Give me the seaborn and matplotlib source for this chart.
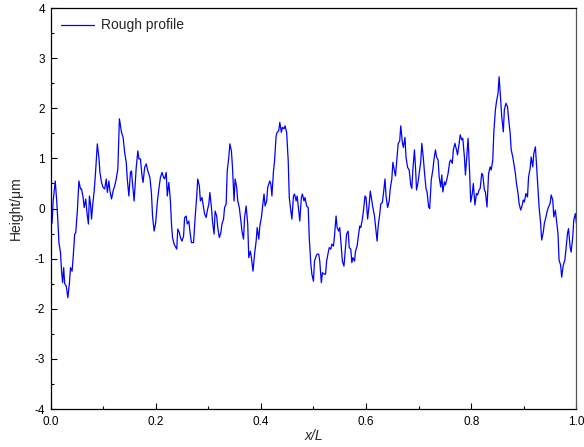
import matplotlib
matplotlib.use("Agg")
import matplotlib.pyplot as plt
from matplotlib.ticker import MultipleLocator
import seaborn as sns
import pandas as pd

# Normalised position along the sample length
x_over_L = [
    0.000, 0.003, 0.005, 0.009, 0.012, 0.014, 0.016, 0.019, 0.021, 0.023,
    0.025, 0.027, 0.030, 0.033, 0.036, 0.038, 0.041, 0.043, 0.046, 0.048,
    0.051, 0.054, 0.057, 0.059, 0.062, 0.064, 0.067, 0.069, 0.072, 0.074,
    0.076, 0.078, 0.080, 0.083, 0.085, 0.089, 0.092, 0.094, 0.097, 0.100,
    0.103, 0.106, 0.108, 0.111, 0.113, 0.116, 0.119, 0.122, 0.125, 0.128,
    0.131, 0.135, 0.138, 0.141, 0.144, 0.146, 0.149, 0.152, 0.154, 0.156,
    0.159, 0.163, 0.166, 0.168, 0.171, 0.174, 0.176, 0.179, 0.182, 0.185,
    0.189, 0.192, 0.194, 0.197, 0.200, 0.203, 0.206, 0.209, 0.212, 0.215,
    0.217, 0.220, 0.222, 0.225, 0.228, 0.230, 0.232, 0.235, 0.237, 0.240,
    0.242, 0.245, 0.247, 0.250, 0.253, 0.255, 0.258, 0.260, 0.263, 0.265,
    0.268, 0.272, 0.275, 0.278, 0.280, 0.283, 0.285, 0.288, 0.291, 0.293,
    0.296, 0.298, 0.301, 0.303, 0.306, 0.308, 0.311, 0.313, 0.316, 0.318,
    0.321, 0.324, 0.326, 0.329, 0.331, 0.334, 0.336, 0.339, 0.341, 0.344,
    0.346, 0.349, 0.351, 0.354, 0.356, 0.359, 0.362, 0.364, 0.367, 0.369,
    0.372, 0.375, 0.377, 0.380, 0.382, 0.385, 0.388, 0.391, 0.393, 0.396,
    0.398, 0.401, 0.403, 0.406, 0.408, 0.411, 0.413, 0.417, 0.419, 0.421,
    0.424, 0.426, 0.429, 0.431, 0.434, 0.436, 0.439, 0.441, 0.444, 0.446,
    0.449, 0.452, 0.454, 0.457, 0.459, 0.462, 0.464, 0.467, 0.469, 0.472,
    0.474, 0.477, 0.479, 0.482, 0.484, 0.487, 0.490, 0.492, 0.495, 0.497,
    0.500, 0.502, 0.505, 0.507, 0.510, 0.512, 0.515, 0.517, 0.520, 0.523,
    0.525, 0.528, 0.530, 0.533, 0.535, 0.538, 0.540, 0.543, 0.545, 0.548,
    0.550, 0.553, 0.555, 0.558, 0.561, 0.563, 0.566, 0.568, 0.571, 0.573,
    0.575, 0.578, 0.580, 0.583, 0.585, 0.588, 0.590, 0.593, 0.595, 0.598,
    0.600, 0.603, 0.606, 0.608, 0.611, 0.613, 0.616, 0.618, 0.621, 0.623,
    0.626, 0.628, 0.631, 0.633, 0.636, 0.638, 0.641, 0.644, 0.646, 0.649,
    0.651, 0.654, 0.656, 0.659, 0.661, 0.664, 0.666, 0.669, 0.671, 0.674,
    0.676, 0.679, 0.682, 0.685, 0.687, 0.689, 0.692, 0.694, 0.696, 0.699,
    0.701, 0.704, 0.706, 0.709, 0.711, 0.714, 0.716, 0.719, 0.721, 0.724,
    0.727, 0.729, 0.732, 0.734, 0.737, 0.739, 0.742, 0.744, 0.746, 0.749,
    0.751, 0.754, 0.756, 0.759, 0.761, 0.764, 0.766, 0.769, 0.772, 0.774,
    0.777, 0.779, 0.782, 0.784, 0.787, 0.789, 0.792, 0.794, 0.797, 0.799,
    0.802, 0.804, 0.807, 0.810, 0.812, 0.815, 0.817, 0.820, 0.822, 0.825,
    0.827, 0.830, 0.833, 0.836, 0.838, 0.841, 0.843, 0.846, 0.848, 0.851,
    0.853, 0.856, 0.858, 0.861, 0.863, 0.866, 0.869, 0.871, 0.874, 0.876,
    0.879, 0.881, 0.884, 0.886, 0.889, 0.891, 0.894, 0.896, 0.899, 0.901,
    0.904, 0.907, 0.909, 0.912, 0.914, 0.917, 0.919, 0.922, 0.924, 0.927,
    0.929, 0.932, 0.934, 0.937, 0.939, 0.942, 0.945, 0.947, 0.950, 0.952,
    0.955, 0.957, 0.960, 0.962, 0.965, 0.967, 0.970, 0.972, 0.975, 0.978,
    0.980, 0.983, 0.985, 0.988, 0.990, 0.993, 0.995, 0.998, 1.000,
]

# Surface height in micrometres
height_um = [
    -0.35, -0.28, 0.15, 0.55, 0.12, -0.25, -0.68, -0.88, -1.25, -1.48,
    -1.18, -1.50, -1.55, -1.78, -1.48, -1.18, -1.25, -0.98, -0.51, -0.48,
    -0.05, 0.55, 0.39, 0.39, 0.22, 0.02, 0.19, -0.05, -0.31, 0.25,
    0.09, -0.21, 0.05, 0.35, 0.62, 1.29, 1.02, 0.72, 0.52, 0.42,
    0.39, 0.59, 0.32, 0.55, 0.35, 0.19, 0.35, 0.45, 0.59, 0.79,
    1.79, 1.52, 1.42, 1.12, 0.92, 0.59, 0.25, 0.72, 0.75, 0.49,
    0.15, 0.82, 1.15, 0.99, 0.99, 0.65, 0.52, 0.82, 0.89, 0.75,
    0.62, 0.29, -0.15, -0.45, -0.28, 0.12, 0.39, 0.62, 0.72, 0.62,
    0.59, 0.72, 0.25, 0.52, 0.15, -0.31, -0.58, -0.71, -0.75, -0.81,
    -0.41, -0.48, -0.58, -0.65, -0.55, -0.18, -0.15, -0.31, -0.25, -0.45,
    -0.68, -0.68, -0.18, 0.25, 0.59, 0.45, 0.15, 0.22, 0.02, -0.11,
    -0.18, -0.05, 0.09, 0.32, 0.02, -0.25, -0.51, -0.05, -0.15, -0.38,
    -0.58, -0.48, -0.31, -0.21, 0.02, 0.09, 0.75, 1.02, 1.29, 1.15,
    0.82, 0.15, 0.59, 0.42, 0.15, 0.02, -0.25, -0.45, -0.61, -0.18,
    0.05, -0.31, -0.98, -0.85, -0.98, -1.25, -0.91, -0.65, -0.38, -0.61,
    -0.35, -0.18, 0.02, 0.29, 0.05, 0.15, 0.42, 0.55, 0.49, 0.25,
    0.75, 0.95, 1.45, 1.52, 1.55, 1.72, 1.52, 1.62, 1.59, 1.65,
    1.52, 0.95, 0.22, -0.05, -0.21, 0.25, 0.29, 0.15, 0.25, -0.05,
    -0.25, 0.22, 0.29, 0.15, 0.22, 0.05, 0.02, -0.58, -1.11, -1.31,
    -1.45, -1.05, -0.95, -0.91, -0.91, -1.05, -1.48, -1.28, -1.31, -1.31,
    -1.05, -0.88, -0.78, -0.81, -0.71, -0.75, -0.55, -0.15, -0.38, -0.45,
    -0.38, -0.78, -1.05, -1.15, -0.78, -0.51, -0.45, -0.78, -0.81, -1.08,
    -0.98, -1.05, -0.85, -0.75, -0.58, -0.35, -0.38, -0.21, -0.05, 0.25,
    0.22, -0.21, 0.09, 0.35, 0.15, 0.02, -0.15, -0.35, -0.65, -0.35,
    -0.11, 0.09, 0.12, 0.29, 0.59, 0.25, 0.02, 0.15, 0.39, 0.59,
    0.92, 0.75, 0.65, 1.05, 1.29, 1.35, 1.65, 1.32, 1.22, 1.42,
    1.02, 0.82, 0.77, 0.47, 0.40, 0.77, 1.17, 0.83, 0.37, 0.53,
    0.70, 0.93, 1.30, 1.00, 0.73, 0.40, 0.33, 0.03, 0.00, 0.57,
    0.77, 0.97, 1.17, 1.03, 0.97, 0.63, 0.43, 0.67, 0.33, 0.53,
    0.47, 0.60, 0.70, 0.93, 0.97, 0.90, 1.17, 1.30, 1.17, 1.07,
    1.30, 1.47, 1.37, 1.40, 1.03, 0.67, 1.10, 1.40, 0.70, 0.13,
    0.30, 0.50, 0.07, 0.30, 0.27, 0.37, 0.40, 0.70, 0.67, 0.37,
    0.33, 0.03, 0.70, 0.83, 0.77, 0.97, 1.53, 1.97, 2.13, 2.30,
    2.63, 2.17, 1.83, 1.53, 1.97, 2.10, 2.03, 1.80, 1.50, 1.17,
    1.03, 0.90, 0.70, 0.50, 0.30, 0.10, -0.03, 0.03, 0.17, 0.13,
    0.30, 0.23, 0.63, 0.80, 1.03, 0.83, 1.10, 1.23, 0.90, 0.37,
    0.03, -0.30, -0.63, -0.47, -0.30, -0.17, -0.03, 0.03, 0.10, 0.27,
    0.17, -0.17, -0.03, -0.23, -0.50, -1.03, -1.13, -1.37, -1.13, -1.03,
    -0.83, -0.50, -0.40, -0.77, -0.87, -0.57, -0.23, -0.10, -0.30,
]

series_label = "Rough profile"

df = pd.DataFrame({"x/L": x_over_L, "Height": height_um})

sns.set_theme(style="ticks")
plt.rcParams["font.family"] = ["Liberation Sans", "DejaVu Sans"]
plt.rcParams["axes.unicode_minus"] = False

fig = plt.figure(figsize=(5.84, 4.47), dpi=100)
ax = fig.add_axes([0.0865, 0.085, 0.9005, 0.897])

sns.lineplot(data=df, x="x/L", y="Height", ax=ax, color="#0000FF",
             linewidth=0.9, sort=False, estimator=None, label=series_label)

ax.set_xlim(0.0, 1.0)
ax.set_ylim(-4, 4)
ax.xaxis.set_major_locator(MultipleLocator(0.2))
ax.xaxis.set_minor_locator(MultipleLocator(0.1))
ax.yaxis.set_major_locator(MultipleLocator(1))
ax.yaxis.set_minor_locator(MultipleLocator(0.5))
ax.set_xticklabels([f"{v:.1f}" for v in ax.get_xticks()])

ax.tick_params(axis="both", which="major", direction="in", length=4,
               width=0.8, labelsize=8.5, colors="black")
ax.tick_params(axis="x", which="major", pad=5)
ax.tick_params(axis="y", which="major", pad=4)
ax.tick_params(axis="both", which="minor", direction="in", length=2.5,
               width=0.8, colors="black")
ax.tick_params(top=False, right=False, which="both")

for side in ["left", "bottom", "top", "right"]:
    ax.spines[side].set_visible(True)
    ax.spines[side].set_color("black")
    ax.spines[side].set_linewidth(0.9)
ax.spines["right"].set_color("#555555")

ax.set_xlabel("x/L", fontsize=10, style="italic", labelpad=1)
ax.set_ylabel("Height/\u03bcm", fontsize=10, labelpad=8)

leg = ax.legend(loc="upper left", frameon=False, fontsize=10,
                handlelength=2.4, borderaxespad=0.35, handletextpad=0.5)

fig.savefig("out.png", dpi=100)
